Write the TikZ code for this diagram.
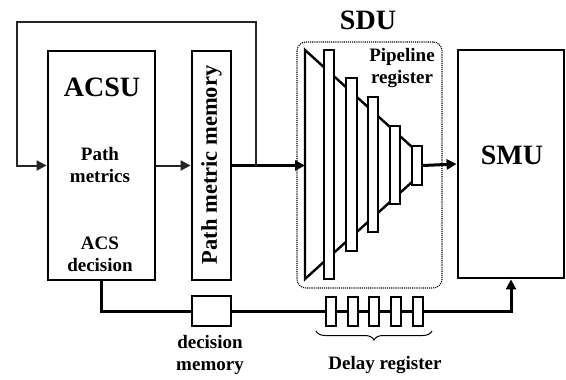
\documentclass[tikz,border=0pt]{standalone}
\usepackage{fontspec}
\setmainfont{Liberation Serif}
\usetikzlibrary{arrows.meta,decorations.pathreplacing}
\begin{document}
\begin{tikzpicture}[x=1pt,y=-1pt,
  box/.style={draw,line width=2.8pt,fill=white,inner sep=0pt},
  reg/.style={draw,line width=2pt,fill=white,inner sep=0pt,minimum width=10pt},
  conn/.style={line width=3pt},
  fb/.style={line width=2pt,black!85},
  tip/.style={-{Triangle[length=10pt,width=10pt]}},
  big/.style={font=\fontsize{28}{30}\selectfont\bfseries},
  lbl/.style={font=\fontsize{19}{22}\selectfont\bfseries,align=center,inner sep=0pt}]
\useasboundingbox (0,0) rectangle (566,380);

% main blocks
\node[box,minimum width=107pt,minimum height=229pt] (acsu) at (101.5,165.5) {};
\node[box,minimum width=39pt,minimum height=229pt] (pmm) at (211.5,165.5) {};
\node[box,minimum width=106pt,minimum height=228pt] (smu) at (511,164) {};
\node[box,minimum width=39pt,minimum height=30pt] (decmem) at (211.5,311) {};

% texts of the blocks
\node[big] (acsulbl) at (102,87) {ACSU};
\node[lbl] (pmlbl) at (100,165) {Path\\metrics};
\node[lbl] (acslbl) at (100,254) {ACS\\decision};
\node[font=\fontsize{22.5}{24}\selectfont\bfseries,rotate=90,inner sep=0pt] (pmmlbl) at (211.5,165) {Path metric memory};
\node[big] (smulbl) at (512,155) {SMU};
\node[lbl] (declbl) at (210,355) {decision\\memory};

% survivor decoding unit
\node[draw,densely dotted,line width=1.1pt,rounded corners=9pt,minimum width=145pt,minimum height=246pt] (sdu) at (369.5,165) {};
\node[big] (sdulbl) at (368,20) {SDU};
\node[lbl] (pipelbl) at (402,68) {Pipeline\\register};

% funnel of the decoding network
\coordinate (sdin) at (305,165.5);
\draw[line width=2.4pt,line join=miter] (412,147) -- (305,50) -- (305,279) -- (412,182);

% pipeline registers
\node[reg,minimum height=229pt] (p1) at (329,164.5) {};
\node[reg,minimum width=11pt,minimum height=173pt] (p2) at (351.5,164.5) {};
\node[reg,minimum height=135pt] (p3) at (373,164.5) {};
\node[reg,minimum height=78pt] (p4) at (395,165) {};
\node[reg,minimum height=39pt] (p5) at (417,165.5) {};

% delay registers
\node[reg,minimum height=29pt] (d1) at (331,311) {};
\node[reg,minimum height=29pt] (d2) at (353,311) {};
\node[reg,minimum height=29pt] (d3) at (374,311) {};
\node[reg,minimum height=29pt] (d4) at (396,311) {};
\node[reg,minimum height=29pt] (d5) at (418,311) {};
\draw[decorate,decoration={brace,mirror,amplitude=9pt},line width=1pt] (316,331) -- (432,331);
\node[lbl] (dellbl) at (385,365) {Delay register};

% data path
\coordinate (fbsplit) at (256,165.5);
\coordinate (fbcorner) at (17,22);
\draw[fb,tip] (acsu.east) -- (pmm.west);
\draw[conn,tip] (pmm.east) -- (sdin);
\draw[fb,tip] (fbsplit) |- (fbcorner) |- (acsu.west);
\draw[conn,tip] (p5.east) -- (smu.west);

% decision path
\draw[conn] (acsu.south) |- (decmem.west);
\draw[conn] (decmem.east) -- (d1.west);
\draw[conn] (d1.east) -- (d2.west);
\draw[conn] (d2.east) -- (d3.west);
\draw[conn] (d3.east) -- (d4.west);
\draw[conn] (d4.east) -- (d5.west);
\draw[conn,tip] (d5.east) -| (smu.south);
\end{tikzpicture}
\end{document}
